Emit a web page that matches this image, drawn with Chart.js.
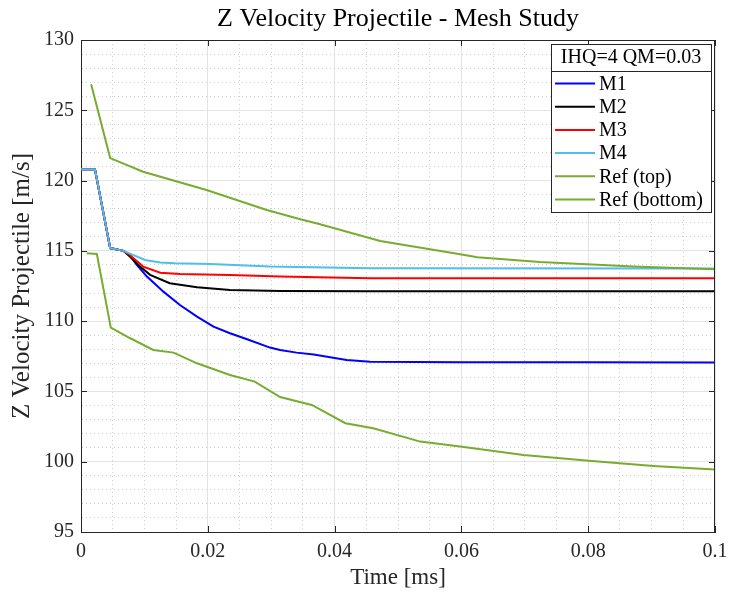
<!DOCTYPE html>
<html>
<head>
<meta charset="utf-8">
<title>Z Velocity Projectile - Mesh Study</title>
<script src="https://cdn.jsdelivr.net/npm/chart.js@4.4.1/dist/chart.umd.min.js"></script>
<style>
  html, body { margin: 0; padding: 0; background: #fff; }
  #wrap { width: 729px; height: 593px; }
</style>
</head>
<body>
<div id="wrap"><canvas id="myChart" width="729" height="593"></canvas></div>
<script>
// valores (tiempo en ms, velocidad en m/s)
const tM1 = [0, 0.0022, 0.0046, 0.0067, 0.0077, 0.0088, 0.0104, 0.013, 0.0156, 0.0183, 0.0209, 0.0235, 0.0262, 0.0298, 0.0314, 0.034, 0.0367, 0.0393, 0.0419, 0.0456, 0.06, 0.08, 0.1];
const vM1 = [120.8, 120.8, 115.2, 115.0, 114.7, 114.0, 113.17, 112.1, 111.15, 110.32, 109.61, 109.14, 108.71, 108.12, 107.95, 107.76, 107.62, 107.43, 107.24, 107.12, 107.08, 107.07, 107.06];

const tM2 = [0, 0.0022, 0.0046, 0.0067, 0.0077, 0.0093, 0.0109, 0.014, 0.0183, 0.0235, 0.0314, 0.0456, 0.1];
const vM2 = [120.8, 120.8, 115.2, 115.0, 114.6, 113.88, 113.29, 112.7, 112.41, 112.22, 112.15, 112.13, 112.13];

const tM3 = [0, 0.0022, 0.0046, 0.0067, 0.0077, 0.0098, 0.0125, 0.0156, 0.0235, 0.0314, 0.0456, 0.1];
const vM3 = [120.8, 120.8, 115.2, 115.0, 114.71, 113.88, 113.45, 113.36, 113.29, 113.17, 113.06, 113.05];

const tM4 = [0, 0.0022, 0.0046, 0.0067, 0.008, 0.0101, 0.0125, 0.0148, 0.0204, 0.0298, 0.0456, 0.1];
const vM4 = [120.8, 120.8, 115.2, 115.0, 114.75, 114.35, 114.18, 114.12, 114.07, 113.88, 113.76, 113.74];

const tRefTop = [0.0016, 0.0046, 0.0098, 0.0198, 0.0293, 0.0346, 0.0377, 0.0472, 0.0598, 0.0625, 0.0724, 0.0798, 0.0871, 0.1];
const vRefTop = [126.85, 121.6, 120.63, 119.33, 117.91, 117.25, 116.89, 115.7, 114.76, 114.55, 114.21, 114.04, 113.88, 113.69];

const tRefBot = [0.0009, 0.0025, 0.0047, 0.0077, 0.0114, 0.0146, 0.0183, 0.0235, 0.0274, 0.0314, 0.0364, 0.0417, 0.0461, 0.0535, 0.0601, 0.0698, 0.0801, 0.0903, 0.1];
const vRefBot = [114.83, 114.78, 109.54, 108.8, 107.95, 107.76, 107.0, 106.17, 105.7, 104.6, 104.04, 102.74, 102.38, 101.43, 101.07, 100.48, 100.06, 99.70, 99.44];

const nombres = ['M1', 'M2', 'M3', 'M4', 'Ref (top)', 'Ref (bottom)'];
const colores = ['#0000ff', '#000000', '#ff0000', '#4dbeee', '#77ac30', '#77ac30'];
const xTicks = [0, 0.02, 0.04, 0.06, 0.08, 0.1];
const yTicks = [95, 100, 105, 110, 115, 120, 125, 130];
const tituloLeyenda = 'IHQ=4 QM=0.03';

const FUENTE = "'Liberation Serif', 'Times New Roman', serif";

function juntar(t, v) {
    return t.map((x, i) => ({ x: x, y: v[i] }));
}

function esMayorX(v) {
    return Math.round(v / 0.005) % 4 === 0;
}
function esMayorY(v) {
    return Math.round(v) % 5 === 0;
}

const series = [[tM1, vM1], [tM2, vM2], [tM3, vM3], [tM4, vM4], [tRefTop, vRefTop], [tRefBot, vRefBot]];

const datasets = series.map((s, i) => ({
    label: nombres[i],
    data: juntar(s[0], s[1]),
    borderColor: colores[i],
    backgroundColor: colores[i],
    borderWidth: 2,
    pointRadius: 0,
    fill: false,
    tension: 0,
    order: series.length - i
}));

// marco, marcas interiores y leyenda estilo MATLAB
const marcoPlugin = {
    id: 'marco',
    afterDatasetsDraw(chart) {
        const { ctx, chartArea: a, scales: { x, y } } = chart;
        ctx.save();
        ctx.strokeStyle = '#262626';
        ctx.lineWidth = 1;
        ctx.beginPath();
        ctx.moveTo(a.left, a.top + 0.5);
        ctx.lineTo(a.right, a.top + 0.5);
        ctx.moveTo(a.right - 0.5, a.top);
        ctx.lineTo(a.right - 0.5, a.bottom);
        yTicks.forEach(v => {
            const py = Math.round(y.getPixelForValue(v)) + 0.5;
            ctx.moveTo(a.left, py); ctx.lineTo(a.left + 6, py);
            ctx.moveTo(a.right, py); ctx.lineTo(a.right - 6, py);
        });
        xTicks.forEach(v => {
            const px = Math.round(x.getPixelForValue(v)) + 0.5;
            ctx.moveTo(px, a.bottom); ctx.lineTo(px, a.bottom - 6);
            ctx.moveTo(px, a.top); ctx.lineTo(px, a.top + 6);
        });
        ctx.stroke();

        // leyenda
        const lx = 551, ly = 44, lw = 160, lh = 168, sep = 27;
        ctx.fillStyle = '#fff';
        ctx.fillRect(lx, ly, lw, lh);
        ctx.strokeStyle = '#262626';
        ctx.strokeRect(lx + 0.5, ly + 0.5, lw, lh);
        ctx.beginPath();
        ctx.moveTo(lx, ly + sep + 0.5);
        ctx.lineTo(lx + lw, ly + sep + 0.5);
        ctx.stroke();

        ctx.font = '20px ' + FUENTE;
        ctx.fillStyle = '#000';
        ctx.textBaseline = 'middle';
        ctx.textAlign = 'center';
        ctx.fillText(tituloLeyenda, lx + lw / 2, ly + 14);
        ctx.textAlign = 'left';
        chart.data.datasets.forEach((d, i) => {
            const yy = ly + 39.5 + i * 23.2;
            ctx.strokeStyle = d.borderColor;
            ctx.lineWidth = 2;
            ctx.beginPath();
            ctx.moveTo(lx + 4, yy);
            ctx.lineTo(lx + 44, yy);
            ctx.stroke();
            ctx.fillText(d.label, lx + 48, yy + 1);
        });
        ctx.restore();
    }
};

const ejes = {
    x: {
        type: 'linear',
        min: 0,
        max: 0.1,
        afterFit: (s) => { s.height = 61; s.paddingLeft = 0; s.paddingRight = 0; },
        ticks: {
            stepSize: 0.005,
            autoSkip: false,
            maxRotation: 0,
            minRotation: 0,
            padding: 8,
            color: '#262626',
            font: { family: FUENTE, size: 20 },
            callback: (v) => esMayorX(v) ? String(Number(v.toFixed(2))) : ''
        },
        grid: {
            drawTicks: false,
            lineWidth: 1,
            color: (c) => (c.tick && esMayorX(c.tick.value)) ? '#e3e3e3' : '#cfcfcf'
        },
        border: {
            color: '#262626',
            width: 1,
            dash: (c) => (c.tick && !esMayorX(c.tick.value)) ? [1, 3] : []
        },
        title: {
            display: true,
            text: 'Time [ms]',
            color: '#262626',
            font: { family: FUENTE, size: 23, lineHeight: 1 },
            padding: { top: 0, bottom: 4 }
        }
    },
    y: {
        min: 95,
        max: 130,
        afterFit: (s) => { s.width = 81; s.paddingTop = 0; s.paddingBottom = 0; },
        ticks: {
            stepSize: 1,
            autoSkip: false,
            padding: 7,
            color: '#262626',
            font: { family: FUENTE, size: 20 },
            callback: (v) => esMayorY(v) ? String(v) : ''
        },
        grid: {
            drawTicks: false,
            lineWidth: 1,
            color: (c) => (c.tick && esMayorY(c.tick.value)) ? '#e3e3e3' : '#cfcfcf'
        },
        border: {
            color: '#262626',
            width: 1,
            dash: (c) => (c.tick && !esMayorY(c.tick.value)) ? [1, 3] : []
        },
        title: {
            display: true,
            text: 'Z Velocity Projectile [m/s]',
            color: '#262626',
            font: { family: FUENTE, size: 25, lineHeight: 1 },
            padding: { top: 10, bottom: 0 }
        }
    }
};

const config = {
    type: 'line',
    data: { datasets: datasets },
    options: {
        responsive: false,
        animation: false,
        layout: { padding: { left: 0, right: 14, top: 0, bottom: 0 } },
        plugins: {
            legend: { display: false },
            tooltip: { enabled: false },
            title: {
                display: true,
                fullSize: false,
                text: 'Z Velocity Projectile - Mesh Study',
                color: '#000',
                font: { family: FUENTE, size: 26, weight: 'normal', lineHeight: 1 },
                padding: { top: 6, bottom: 8 }
            }
        },
        scales: ejes
    },
    plugins: [marcoPlugin]
};

new Chart(document.querySelector('#myChart'), config);
</script>
</body>
</html>
